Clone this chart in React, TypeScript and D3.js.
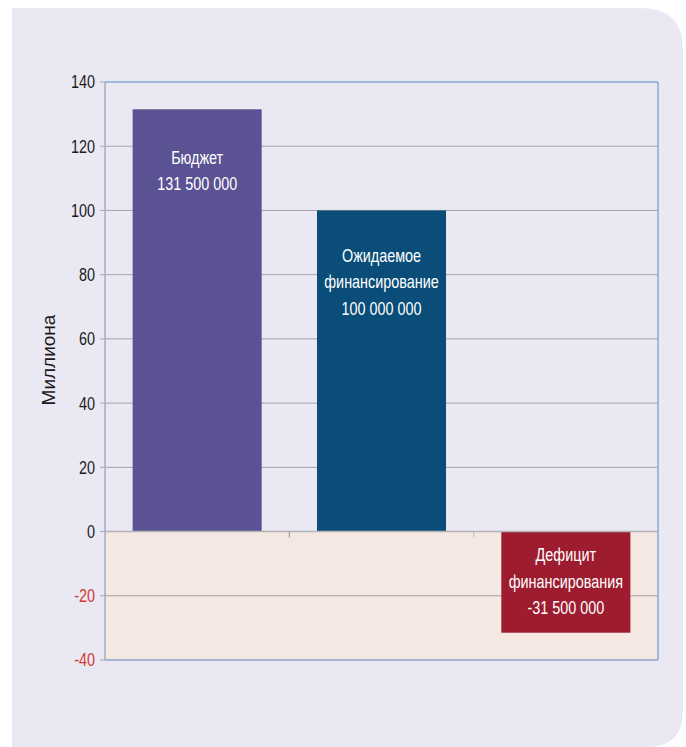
import React from "react";
import * as d3 from "d3";

const categories = ["Бюджет", "Ожидаемое финансирование", "Дефицит финансирования"];
const values = [131.5, 100, -31.5];
const labelLines = [
  ["Бюджет", "131 500 000"],
  ["Ожидаемое", "финансирование", "100 000 000"],
  ["Дефицит", "финансирования", "-31 500 000"],
];
const barColors = ["#5a5292", "#0a4d78", "#9d1c2f"];
const yTicks = [-40, -20, 0, 20, 40, 60, 80, 100, 120, 140];
const yTitle = "Миллиона";

const W = 686;
const H = 747;
const SANS = "'Liberation Sans', Arial, sans-serif";
const SQ = 0.8; // horizontal condensing of the narrow text

export default function App() {
  const plot = { left: 105, right: 658, top: 82, bottom: 660 };
  const x = d3
    .scaleBand<string>()
    .domain(categories)
    .range([plot.left, plot.right])
    .paddingInner(0.3)
    .paddingOuter(0.15);
  const y = d3.scaleLinear().domain([-40, 140]).range([plot.bottom, plot.top]);
  const y0 = y(0);
  const boundaries = d3
    .range(1, categories.length)
    .map((i) => plot.left + i * ((plot.right - plot.left) / categories.length));

  // panel shape
  const pL = 12, pT = 8, pR = 683, pB = 747, r1 = 42, r2 = 36;
  const panel = `M${pL},${pT} H${pR - r1} Q${pR},${pT} ${pR},${pT + r1} V${pB - r2} Q${pR},${pB} ${pR - r2},${pB} H${pL} Z`;

  return (
    <svg width={W} height={H} style={{ position: "absolute", left: 0, top: 0 }}>
      <rect x={0} y={0} width={W} height={H} fill="#ffffff" />
      <path d={panel} fill="#eae8f2" />
      {/* negative region */}
      <rect x={plot.left} y={y0} width={plot.right - plot.left} height={plot.bottom - y0} fill="#f5e7e1" />
      {/* gridlines */}
      {yTicks
        .filter((t) => t !== 0 && t !== 140 && t !== -40)
        .map((t) => (
          <line key={t} x1={plot.left} x2={plot.right} y1={y(t)} y2={y(t)} stroke="#a3a3a8" strokeWidth={1} />
        ))}
      {/* bars */}
      {values.map((v, i) => {
        const bx = x(categories[i])!;
        const top = y(Math.max(v, 0));
        const bottom = y(Math.min(v, 0));
        return <rect key={i} x={bx} y={top} width={x.bandwidth()} height={bottom - top} fill={barColors[i]} />;
      })}
      {/* zero line */}
      <line x1={plot.left} x2={plot.right} y1={y0} y2={y0} stroke="#b4b4b8" strokeWidth={1.5} />
      {boundaries.map((bx, i) => (
        <line key={i} x1={bx} x2={bx} y1={y0} y2={y0 + 6} stroke={i === 0 ? "#9a9a9e" : "#c2c2c6"} strokeWidth={1.2} />
      ))}
      {/* plot border */}
      <line x1={plot.left} x2={plot.right} y1={plot.top} y2={plot.top} stroke="#88a9d0" strokeWidth={1.5} />
      <line x1={plot.right} x2={plot.right} y1={plot.top} y2={plot.bottom} stroke="#88a9d0" strokeWidth={1.5} />
      <line x1={plot.left} x2={plot.right} y1={plot.bottom} y2={plot.bottom} stroke="#8ea6c4" strokeWidth={1.5} />
      <line x1={plot.left} x2={plot.left} y1={plot.top} y2={plot.bottom} stroke="#a2acbc" strokeWidth={1.5} />
      {/* y ticks */}
      {yTicks.map((t) => (
        <g key={t}>
          <line x1={plot.left - 5} x2={plot.left} y1={y(t)} y2={y(t)} stroke="#a2acbc" strokeWidth={1} />
          <g transform={`translate(${plot.left - 10},${y(t)}) scale(${SQ},1)`}>
            <text dy="0.36em" textAnchor="end" fontFamily={SANS} fontSize={18} fill={t < 0 ? "#d23a30" : "#1a1a1a"}>
              {t}
            </text>
          </g>
        </g>
      ))}
      {/* y title */}
      <text
        transform={`translate(55,${(plot.top + plot.bottom) / 2 - 11}) rotate(-90)`}
        textAnchor="middle"
        fontFamily={SANS}
        fontSize={19}
        fill="#1a1a1a"
      >
        {yTitle}
      </text>
      {/* bar labels */}
      {values.map((v, i) => {
        const cx = x(categories[i])! + x.bandwidth() / 2;
        const lines = labelLines[i];
        const firstY = v >= 0 ? y(v) + (lines.length === 2 ? 48 : 45) : y0 + 23;
        return (
          <g key={i}>
            {lines.map((l, j) => (
              <g key={j} transform={`translate(${cx},${firstY + j * 26.5}) scale(${SQ},1)`}>
                <text dy="0.36em" textAnchor="middle" fontFamily={SANS} fontSize={18} fill="#ffffff">
                  {l}
                </text>
              </g>
            ))}
          </g>
        );
      })}
    </svg>
  );
}
